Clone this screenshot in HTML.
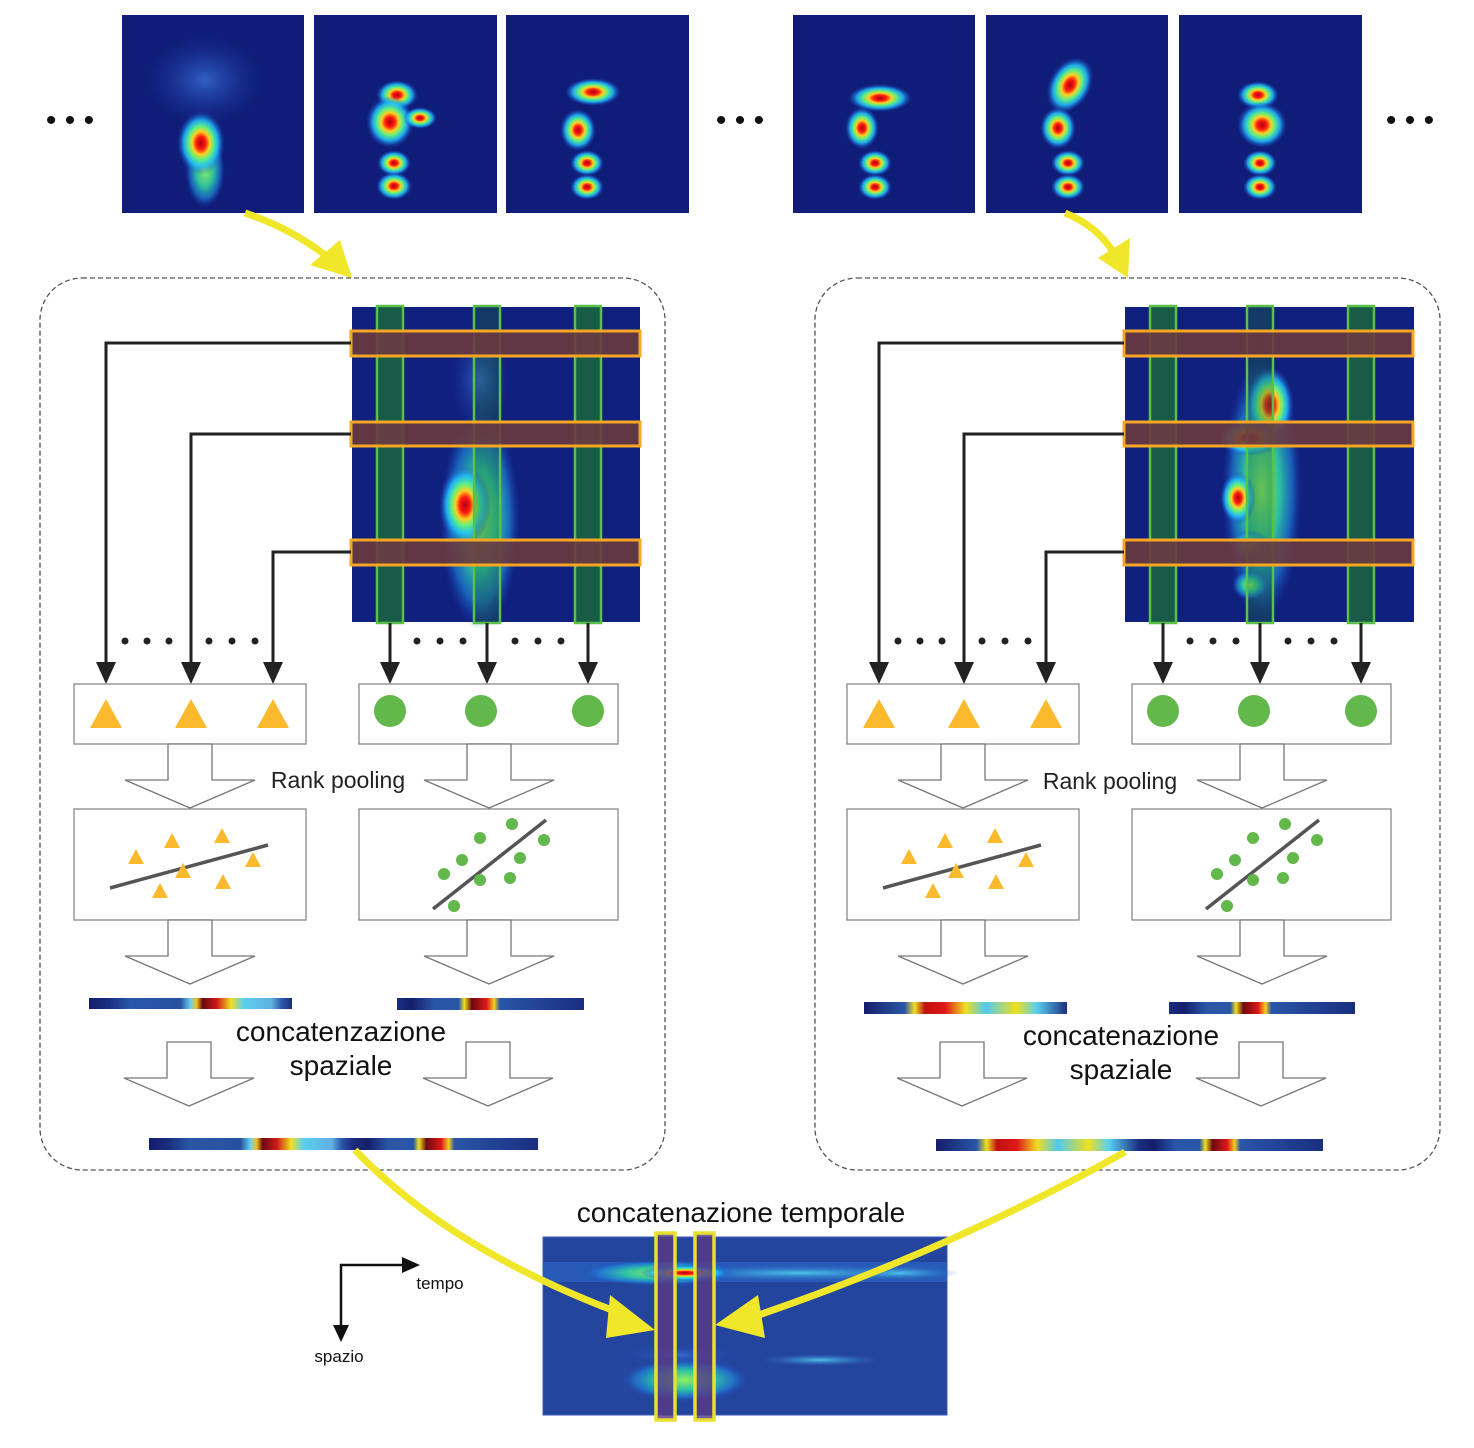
<!DOCTYPE html>
<html><head><meta charset="utf-8"><style>
html,body{margin:0;padding:0;background:#fff;}
svg{display:block;font-family:"Liberation Sans",sans-serif;}
</style></head><body>
<svg width="1474" height="1448" viewBox="0 0 1474 1448">
<defs>
<radialGradient id="jet">
<stop offset="0%" stop-color="#b00010"/>
<stop offset="20%" stop-color="#ff1a10"/>
<stop offset="36%" stop-color="#ffd020"/>
<stop offset="52%" stop-color="#60f080"/>
<stop offset="72%" stop-color="#20c0ff" stop-opacity="0.85"/>
<stop offset="100%" stop-color="#1a40c0" stop-opacity="0"/>
</radialGradient>
<radialGradient id="cool">
<stop offset="0%" stop-color="#90f060"/>
<stop offset="45%" stop-color="#30d0a0" stop-opacity="0.9"/>
<stop offset="75%" stop-color="#2090e0" stop-opacity="0.6"/>
<stop offset="100%" stop-color="#1a40c0" stop-opacity="0"/>
</radialGradient>
<radialGradient id="faint">
<stop offset="0%" stop-color="#3a70d8" stop-opacity="0.8"/>
<stop offset="100%" stop-color="#1a3aa0" stop-opacity="0"/>
</radialGradient>
<radialGradient id="cyan">
<stop offset="0%" stop-color="#50d0f0" stop-opacity="0.9"/>
<stop offset="100%" stop-color="#2a6ac8" stop-opacity="0"/>
</radialGradient>
<linearGradient id="barA" x1="0" x2="1">
<stop offset="0" stop-color="#141e6a"/><stop offset="0.1" stop-color="#1a2e80"/>
<stop offset="0.2" stop-color="#2a56a8"/><stop offset="0.45" stop-color="#2850a0"/>
<stop offset="0.5" stop-color="#6ad0f0"/><stop offset="0.53" stop-color="#f0c020"/>
<stop offset="0.56" stop-color="#6a0a10"/><stop offset="0.63" stop-color="#d01818"/>
<stop offset="0.7" stop-color="#f0e020"/><stop offset="0.76" stop-color="#5ad0f0"/>
<stop offset="0.9" stop-color="#60b0e0"/><stop offset="0.95" stop-color="#2a56a8"/>
<stop offset="1" stop-color="#1a2e80"/>
</linearGradient>
<linearGradient id="barB" x1="0" x2="1">
<stop offset="0" stop-color="#1a2e80"/><stop offset="0.08" stop-color="#141e6a"/>
<stop offset="0.2" stop-color="#2a56a8"/><stop offset="0.33" stop-color="#2a56a8"/>
<stop offset="0.36" stop-color="#f0e020"/><stop offset="0.4" stop-color="#6a0a10"/>
<stop offset="0.48" stop-color="#e01818"/><stop offset="0.52" stop-color="#f0d020"/>
<stop offset="0.55" stop-color="#2a56a8"/><stop offset="1" stop-color="#1a2e80"/>
</linearGradient>
<linearGradient id="barC" x1="0" x2="1">
<stop offset="0" stop-color="#141e6a"/><stop offset="0.2" stop-color="#2a56a8"/>
<stop offset="0.25" stop-color="#f0e020"/><stop offset="0.3" stop-color="#c01010"/>
<stop offset="0.4" stop-color="#e01818"/><stop offset="0.5" stop-color="#f0e020"/>
<stop offset="0.6" stop-color="#50c8f0"/><stop offset="0.75" stop-color="#f0e020"/>
<stop offset="0.85" stop-color="#5ad0f0"/><stop offset="1" stop-color="#1a2e80"/>
</linearGradient>
<g id="blockArrow"><path d="M-22,0 L22,0 L22,36 L65,36 L0,64 L-65,36 L-22,36 Z" fill="#fff" stroke="#777" stroke-width="1.3"/></g>
<g id="tri"><path d="M0,-9 L8,6 L-8,6 Z" fill="#fbb92e"/></g>
<g id="bigtri"><path d="M0,-15 L16,14 L-16,14 Z" fill="#fbb92e"/></g>
</defs>

<g>
<text x="70" y="130" font-size="30" text-anchor="middle" fill="#111">• • •</text>
<text x="740" y="130" font-size="30" text-anchor="middle" fill="#111">• • •</text>
<text x="1410" y="130" font-size="30" text-anchor="middle" fill="#111">• • •</text>

<g>
<rect x="122" y="15" width="182" height="198" fill="#0f1c78"/>
<ellipse cx="205" cy="80" rx="60" ry="45" fill="url(#faint)"/>
<ellipse cx="205" cy="170" rx="20" ry="38" fill="url(#cool)"/>
<ellipse cx="201" cy="143" rx="24" ry="32" fill="url(#jet)"/>
</g>
<g>
<rect x="314" y="15" width="183" height="198" fill="#0f1c78"/>
<ellipse cx="397" cy="95" rx="21" ry="15" fill="url(#jet)"/>
<ellipse cx="390" cy="122" rx="24" ry="26" fill="url(#jet)"/>
<ellipse cx="420" cy="118" rx="17" ry="11" fill="url(#jet)"/>
<ellipse cx="394" cy="163" rx="17" ry="13" fill="url(#jet)"/>
<ellipse cx="394" cy="186" rx="18" ry="14" fill="url(#jet)"/>
</g>
<g>
<rect x="506" y="15" width="183" height="198" fill="#0f1c78"/>
<ellipse cx="593" cy="92" rx="28" ry="14" fill="url(#jet)"/>
<ellipse cx="578" cy="130" rx="18" ry="21" fill="url(#jet)"/>
<ellipse cx="587" cy="163" rx="17" ry="13" fill="url(#jet)"/>
<ellipse cx="587" cy="187" rx="17" ry="13" fill="url(#jet)"/>
</g>
<g>
<rect x="793" y="15" width="182" height="198" fill="#0f1c78"/>
<ellipse cx="880" cy="98" rx="32" ry="14" fill="url(#jet)"/>
<ellipse cx="862" cy="128" rx="17" ry="21" fill="url(#jet)"/>
<ellipse cx="875" cy="163" rx="17" ry="13" fill="url(#jet)"/>
<ellipse cx="875" cy="187" rx="17" ry="13" fill="url(#jet)"/>
</g>
<g>
<rect x="986" y="15" width="182" height="198" fill="#0f1c78"/>
<ellipse cx="1070" cy="85" rx="21" ry="30" fill="url(#jet)" transform="rotate(30 1070 85)"/>
<ellipse cx="1058" cy="128" rx="18" ry="21" fill="url(#jet)"/>
<ellipse cx="1068" cy="163" rx="17" ry="13" fill="url(#jet)"/>
<ellipse cx="1068" cy="187" rx="17" ry="13" fill="url(#jet)"/>
</g>
<g>
<rect x="1179" y="15" width="183" height="198" fill="#0f1c78"/>
<ellipse cx="1258" cy="95" rx="21" ry="14" fill="url(#jet)"/>
<ellipse cx="1262" cy="125" rx="25" ry="23" fill="url(#jet)"/>
<ellipse cx="1260" cy="163" rx="17" ry="13" fill="url(#jet)"/>
<ellipse cx="1260" cy="187" rx="17" ry="13" fill="url(#jet)"/>
</g>
</g>

<g fill="none" stroke="#f0e62a" stroke-width="7">
<path d="M245,213 Q290,228 325,255"/>
<path d="M1065,213 Q1095,225 1112,250"/>
</g>
<path d="M310,265 L340,240 L352,278 Z" fill="#f0e62a"/>
<path d="M1098,258 L1130,238 L1128,278 Z" fill="#f0e62a"/>

<rect x="40" y="278" width="625" height="892" rx="42" fill="none" stroke="#555" stroke-width="1.3" stroke-dasharray="5,3"/>
<rect x="815" y="278" width="625" height="892" rx="42" fill="none" stroke="#555" stroke-width="1.3" stroke-dasharray="5,3"/>

<g>
<rect x="352" y="307" width="288" height="315" fill="#10207e"/>
<ellipse cx="480" cy="520" rx="40" ry="110" fill="url(#cool)"/>
<ellipse cx="465" cy="505" rx="26" ry="40" fill="url(#jet)"/>
<ellipse cx="480" cy="380" rx="30" ry="50" fill="url(#faint)"/>
</g>
<g>
<rect x="1125" y="307" width="289" height="315" fill="#10207e"/>
<ellipse cx="1262" cy="490" rx="40" ry="130" fill="url(#cool)"/>
<ellipse cx="1270" cy="405" rx="24" ry="38" fill="url(#jet)"/>
<ellipse cx="1250" cy="438" rx="32" ry="18" fill="url(#jet)"/>
<ellipse cx="1238" cy="498" rx="18" ry="26" fill="url(#jet)"/>
<ellipse cx="1250" cy="545" rx="20" ry="15" fill="url(#cool)"/>
<ellipse cx="1250" cy="585" rx="18" ry="15" fill="url(#cool)"/>
</g>

<g id="panelL">
<g fill="#1a6a3a" fill-opacity="0.8" stroke="#5ac04a" stroke-width="2.5">
<rect x="377" y="306" width="26" height="317"/>
<rect x="474" y="306" width="26" height="317" fill-opacity="0.35"/>
<rect x="575" y="306" width="26" height="317"/>
</g>
<g fill="#6a3a40" fill-opacity="0.9" stroke="#f5a623" stroke-width="3">
<rect x="351" y="331" width="289" height="25"/>
<rect x="351" y="422" width="289" height="24"/>
<rect x="351" y="540" width="289" height="25"/>
</g>
<g fill="none" stroke="#222" stroke-width="3">
<polyline points="351,343 106,343 106,665"/>
<polyline points="351,434 191,434 191,665"/>
<polyline points="351,552 273,552 273,665"/>
<line x1="390" y1="623" x2="390" y2="665"/>
<line x1="487" y1="623" x2="487" y2="665"/>
<line x1="588" y1="623" x2="588" y2="665"/>
</g>
<g fill="#222">
<path d="M96,662 L116,662 L106,684 Z"/><path d="M181,662 L201,662 L191,684 Z"/><path d="M263,662 L283,662 L273,684 Z"/>
<path d="M380,662 L400,662 L390,684 Z"/><path d="M477,662 L497,662 L487,684 Z"/><path d="M578,662 L598,662 L588,684 Z"/>
</g>
<g fill="#222">
<circle cx="125" cy="641" r="3.5"/><circle cx="147" cy="641" r="3.5"/><circle cx="169" cy="641" r="3.5"/>
<circle cx="209" cy="641" r="3.5"/><circle cx="232" cy="641" r="3.5"/><circle cx="255" cy="641" r="3.5"/>
<circle cx="417" cy="641" r="3.5"/><circle cx="440" cy="641" r="3.5"/><circle cx="463" cy="641" r="3.5"/>
<circle cx="515" cy="641" r="3.5"/><circle cx="538" cy="641" r="3.5"/><circle cx="561" cy="641" r="3.5"/>
</g>
<rect x="74" y="684" width="232" height="60" fill="#fff" stroke="#888" stroke-width="1.3"/>
<rect x="359" y="684" width="259" height="60" fill="#fff" stroke="#888" stroke-width="1.3"/>
<use href="#bigtri" x="106" y="714"/><use href="#bigtri" x="191" y="714"/><use href="#bigtri" x="273" y="714"/>
<g fill="#62b84a"><ellipse cx="390" cy="711" rx="16" ry="16"/><ellipse cx="481" cy="711" rx="16" ry="16"/><ellipse cx="588" cy="711" rx="16" ry="16"/></g>
<use href="#blockArrow" x="190" y="744"/><use href="#blockArrow" x="489" y="744"/>
<rect x="74" y="809" width="232" height="111" fill="#fff" stroke="#888" stroke-width="1.3"/>
<rect x="359" y="809" width="259" height="111" fill="#fff" stroke="#888" stroke-width="1.3"/>
<line x1="110" y1="888" x2="268" y2="845" stroke="#555" stroke-width="3.5"/>
<use href="#tri" x="136" y="858"/><use href="#tri" x="172" y="842"/><use href="#tri" x="222" y="837"/>
<use href="#tri" x="253" y="861"/><use href="#tri" x="183" y="872"/><use href="#tri" x="223" y="883"/><use href="#tri" x="160" y="892"/>
<line x1="433" y1="909" x2="546" y2="820" stroke="#555" stroke-width="3.5"/>
<g fill="#62b84a">
<circle cx="512" cy="824" r="6"/><circle cx="480" cy="838" r="6"/><circle cx="544" cy="840" r="6"/>
<circle cx="462" cy="860" r="6"/><circle cx="520" cy="858" r="6"/><circle cx="444" cy="874" r="6"/>
<circle cx="480" cy="880" r="6"/><circle cx="510" cy="878" r="6"/><circle cx="454" cy="906" r="6"/>
</g>
<use href="#blockArrow" x="190" y="920"/><use href="#blockArrow" x="489" y="920"/>
<use href="#blockArrow" x="189" y="1042"/><use href="#blockArrow" x="488" y="1042"/>
</g>
<use href="#panelL" transform="translate(773,0)"/>

<text x="338" y="788" font-size="23" text-anchor="middle" fill="#222">Rank pooling</text>
<text x="1110" y="789" font-size="23" text-anchor="middle" fill="#222">Rank pooling</text>

<rect x="89" y="998" width="203" height="11" fill="url(#barA)"/>
<rect x="397" y="998" width="187" height="12" fill="url(#barB)"/>
<rect x="864" y="1002" width="203" height="12" fill="url(#barC)"/>
<rect x="1169" y="1002" width="186" height="12" fill="url(#barB)"/>

<text x="341" y="1041" font-size="28" text-anchor="middle" fill="#111">concatenzazione</text>
<text x="341" y="1075" font-size="28" text-anchor="middle" fill="#111">spaziale</text>
<text x="1121" y="1045" font-size="28" text-anchor="middle" fill="#111">concatenazione</text>
<text x="1121" y="1079" font-size="28" text-anchor="middle" fill="#111">spaziale</text>

<g>
<rect x="149" y="1138" width="203" height="12" fill="url(#barA)"/>
<rect x="352" y="1138" width="186" height="12" fill="url(#barB)"/>
</g>
<g>
<rect x="936" y="1139" width="203" height="12" fill="url(#barC)"/>
<rect x="1139" y="1139" width="184" height="12" fill="url(#barB)"/>
</g>

<text x="741" y="1222" font-size="28" text-anchor="middle" fill="#111">concatenazione temporale</text>
<g>
<rect x="543" y="1237" width="404" height="178" fill="#24459e"/>
<rect x="543" y="1262" width="404" height="20" fill="#2a6ac8" opacity="0.6"/>
<ellipse cx="800" cy="1273" rx="150" ry="8" fill="url(#cyan)"/>
<ellipse cx="900" cy="1273" rx="60" ry="7" fill="url(#cyan)"/>
<ellipse cx="660" cy="1273" rx="80" ry="13" fill="url(#cool)"/>
<ellipse cx="685" cy="1273" rx="45" ry="8" fill="url(#jet)"/>
<ellipse cx="685" cy="1380" rx="65" ry="22" fill="url(#cool)"/>
<ellipse cx="680" cy="1355" rx="70" ry="12" fill="url(#faint)"/>
<ellipse cx="820" cy="1360" rx="60" ry="6" fill="url(#cyan)"/>
<rect x="543" y="1237" width="404" height="178" fill="none" stroke="#3a5ab8" stroke-width="1"/>
</g>
<g fill="#5a3a80" fill-opacity="0.8" stroke="#e8e030" stroke-width="3.5">
<rect x="656" y="1233" width="19" height="187"/>
<rect x="695" y="1233" width="19" height="187"/>
</g>
<g fill="none" stroke="#f0e62a" stroke-width="7">
<path d="M355,1150 Q450,1250 625,1315"/>
<path d="M1125,1152 Q950,1250 750,1318"/>
</g>
<path d="M610,1295 L655,1330 L606,1338 Z" fill="#f0e62a"/>
<path d="M758,1295 L715,1325 L765,1338 Z" fill="#f0e62a"/>

<g>
<polyline points="406,1265 341,1265 341,1330" fill="none" stroke="#111" stroke-width="2.5"/>
<path d="M402,1257 L420,1265 L402,1273 Z" fill="#111"/>
<path d="M333,1325 L349,1325 L341,1342 Z" fill="#111"/>
<text x="440" y="1289" font-size="17" text-anchor="middle" fill="#111">tempo</text>
<text x="339" y="1362" font-size="17" text-anchor="middle" fill="#111">spazio</text>
</g>
</svg>
</body></html>
